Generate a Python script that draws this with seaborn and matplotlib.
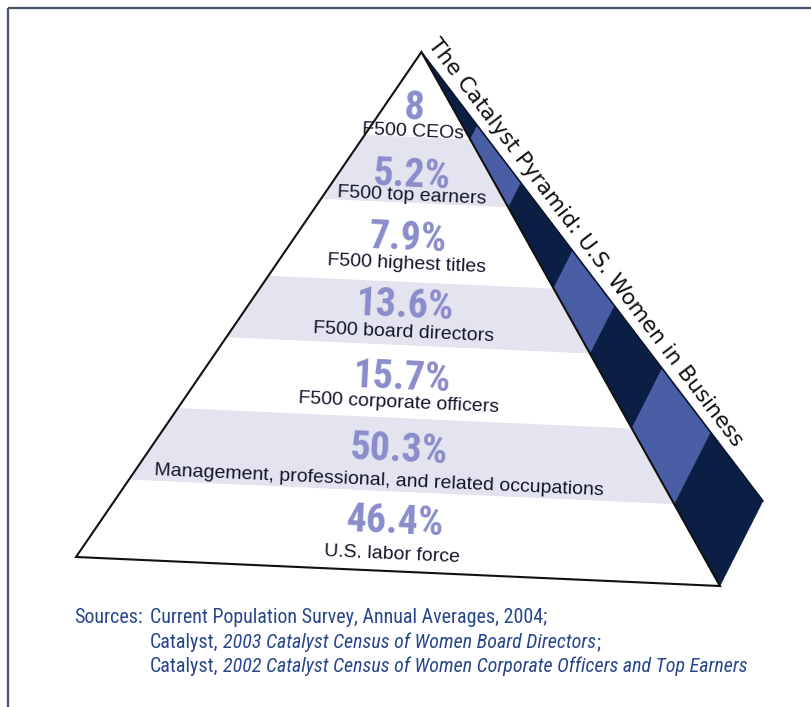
import numpy as np
import pandas as pd
import seaborn as sns
import matplotlib
matplotlib.use("Agg")
import matplotlib.pyplot as plt
from matplotlib.patches import Polygon
from matplotlib.transforms import Affine2D
from matplotlib import font_manager as fm

# ---------------- data ----------------
levels = [
    "F500 CEOs",
    "F500 top earners",
    "F500 highest titles",
    "F500 board directors",
    "F500 corporate officers",
    "Management, professional, and related occupations",
    "U.S. labor force",
]
values = ["8", "5.2%", "7.9%", "13.6%", "15.7%", "50.3%", "46.4%"]
title = "The Catalyst Pyramid: U.S. Women in Business"
source_label = "Sources:"
source_lines = [
    [("Current Population Survey, Annual Averages, 2004;", False)],
    [("Catalyst,", False), ("2003 Catalyst Census of Women Board Directors", True), (";", False)],
    [("Catalyst,", False), ("2002 Catalyst Census of Women Corporate Officers and Top Earners", True)],
]

# ---------------- layout (pyramid-local units: half base = 1, height = 1) ----------------
band_bottom = [0.836, 0.709, 0.557, 0.435, 0.295, 0.153, 0.0]
number_v = [0.869, 0.740, 0.619, 0.490, 0.350, 0.212, 0.073]
label_v = [0.838, 0.715, 0.583, 0.450, 0.315, 0.165, 0.023]
number_u = [-0.015] * 7
label_u = [-0.015, -0.01, -0.015, -0.015, -0.02, -0.07, -0.02]
BACK = (1.1216, 0.167)          # back corner of the side face
HALF_BASE, HEIGHT = 322.3, 520.0
TILT = -2.58
BASE_MID = (398.0, 135.5)

# ---------------- style ----------------
sns.set_theme(style="white")
names = {f.name for f in fm.fontManager.ttflist}
SANS = "Liberation Sans" if "Liberation Sans" in names else "DejaVu Sans"
plt.rcParams["font.family"] = [SANS, "DejaVu Sans"]


def resolve(fams, weight="normal", style="normal"):
    for fam in fams:
        if fam not in names:
            continue
        try:
            return fm.findfont(fm.FontProperties(family=fam, weight=weight, style=style),
                               fallback_to_default=False)
        except Exception:
            continue
    return None


COND = ["Liberation Sans Narrow", "Roboto Condensed", "Open Sans Condensed",
        "Arial Narrow"]
num_path = resolve(COND, "bold") or resolve([SANS], "bold")
src_path = resolve(COND, "normal") or resolve([SANS], "normal")
src_it_path = resolve(COND, "normal", "italic") or resolve([SANS], "normal", "italic")
lab_path = resolve([SANS], "normal")
ttl_path = resolve(["DejaVu Sans"], "normal")

LIGHT = "#e3e4ef"
NAVY = "#0b1f45"
MID = "#4a5ea6"
NUM_C = "#8a8dcb"
LAB_C = "#15152a"
SRC_C = "#27468c"
FRAME_C = "#46536a"

fig = plt.figure(figsize=(8.12, 7.07), dpi=100)
fig.patch.set_facecolor("white")
ax = fig.add_axes([0, 0, 1, 1])
ax.set_xlim(0, 812)
ax.set_ylim(0, 707)
ax.axis("off")

T = Affine2D().scale(HALF_BASE, HEIGHT).rotate_deg(TILT).translate(*BASE_MID) + ax.transData

# frame
ax.plot([8, 8], [0, 699], color=FRAME_C, lw=1.6, solid_capstyle="butt")
ax.plot([8, 812], [699, 699], color=FRAME_C, lw=1.6, solid_capstyle="butt")

tops = [1.0] + band_bottom[:-1]


def front(v):
    return (1 - v, v)


def back(v):
    return ((1 - v) * BACK[0], (1 - v) * BACK[1] + v)


for i, (v0, v1) in enumerate(zip(band_bottom, tops)):
    pts = [(-(1 - v0), v0), (1 - v0, v0), (1 - v1, v1), (-(1 - v1), v1)]
    face = LIGHT if i % 2 == 1 else "white"
    ax.add_patch(Polygon(pts, closed=True, facecolor=face, edgecolor="none",
                         transform=T, zorder=1))
    spts = [front(v0), back(v0), back(v1), front(v1)]
    sface = MID if i % 2 == 1 else NAVY
    ax.add_patch(Polygon(spts, closed=True, facecolor=sface, edgecolor=sface, lw=0.3,
                         transform=T, zorder=1))

ax.add_patch(Polygon([(-1, 0), (1, 0), (0, 1)], closed=True, fill=False,
                     edgecolor="#111111", lw=1.5, joinstyle="miter", transform=T, zorder=3))
ax.plot([0, BACK[0]], [1, BACK[1]], color="#0a1530", lw=1.2, transform=T, zorder=3)

fig.canvas.draw()
renderer = fig.canvas.get_renderer()


def fp(path, size):
    return fm.FontProperties(fname=path, size=size)


def width_of(s, path, size):
    t = ax.text(0, 0, s, fontproperties=fp(path, size))
    w = t.get_window_extent(renderer).width
    t.remove()
    return w


# number size: fit "13.6%" to ~98 px, cap height limited to ~30 px
nsize = 20 * 98.0 / width_of(values[3], num_path, 20)
nsize = min(nsize, 31.0)

for val, lab, nv, lv, nu, lu in zip(values, levels, number_v, label_v, number_u, label_u):
    ax.text(nu, nv, val, transform=T, ha="center", va="baseline",
            rotation=TILT, rotation_mode="anchor", color=NUM_C, zorder=4,
            fontproperties=fp(num_path, nsize))
    ax.text(lu, lv, lab, transform=T, ha="center", va="baseline",
            rotation=TILT, rotation_mode="anchor", color=LAB_C, zorder=4,
            fontproperties=fp(lab_path, 14))

# title along the side edge
tsize = 14 * 508.0 / width_of(title, ttl_path, 14)
A = np.array(T.transform((0, 1)))
B = np.array(T.transform(BACK))
d = (B - A) / np.linalg.norm(B - A)
n = np.array([-d[1], d[0]])
if n[0] < 0:
    n = -n
start = A - 3 * d + 9 * n
start_data = ax.transData.inverted().transform(start)
ang = np.degrees(np.arctan2(d[1], d[0]))
ax.text(start_data[0], start_data[1], title, fontproperties=fp(ttl_path, tsize),
        color="#111111", rotation=ang, rotation_mode="anchor",
        ha="left", va="baseline", zorder=5)

# sources: fit the third line (regular + italic runs) to ~597 px
base = 13.0
line3_w = (width_of(source_lines[2][0][0], src_path, base)
           + width_of("a a", src_path, base) - width_of("aa", src_path, base)
           + width_of(source_lines[2][1][0], src_it_path, base))
ssize = base * 597.0 / line3_w
space = width_of("a a", src_path, ssize) - width_of("aa", src_path, ssize)

ax.text(143, 707 - 623, source_label, fontproperties=fp(src_path, ssize), color=SRC_C,
        ha="right", va="baseline")
baselines = [623, 648, 672]
for runs, yb in zip(source_lines, baselines):
    x = 150.0
    for k, (s, it) in enumerate(runs):
        t = ax.text(x, 707 - yb, s, fontproperties=fp(src_it_path if it else src_path, ssize),
                    color=SRC_C, ha="left", va="baseline")
        w = t.get_window_extent(renderer).width
        x += w
        if k + 1 < len(runs) and runs[k + 1][0] != ";":
            x += space

fig.savefig("out.png", dpi=100, facecolor="white")
